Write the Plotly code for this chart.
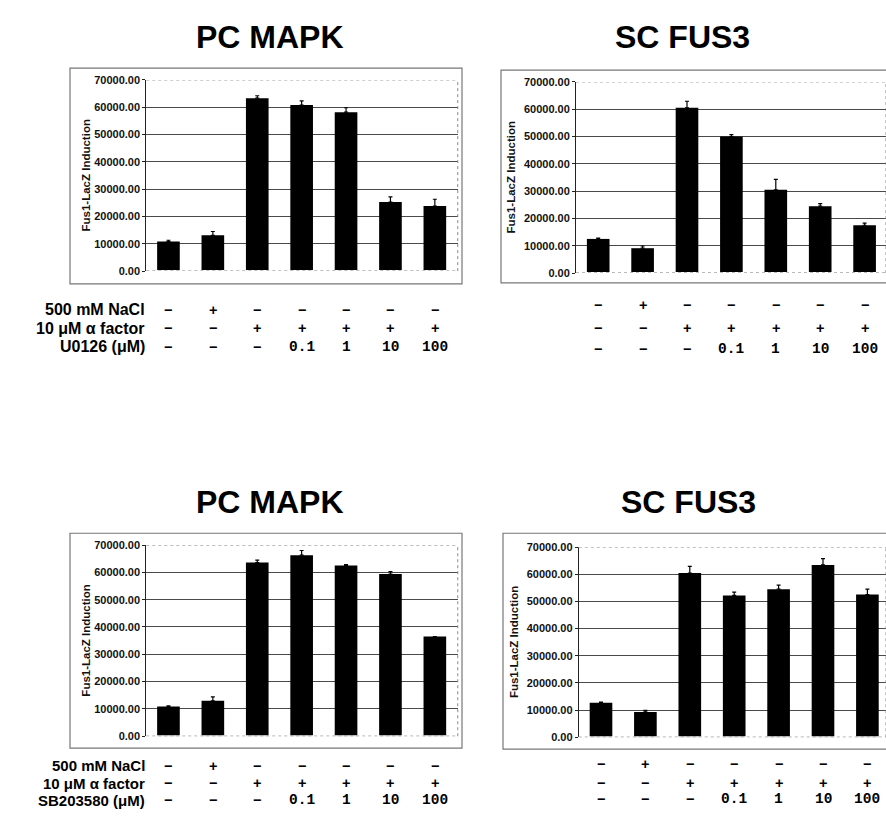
import plotly.graph_objects as go

W, H = 886, 826

# ---------------- data ----------------
lanes = ["L1", "L2", "L3", "L4", "L5", "L6", "L7"]
nacl_row = ["−", "+", "−", "−", "−", "−", "−"]
alpha_row = ["−", "−", "+", "+", "+", "+", "+"]
inhib_row = ["−", "−", "−", "0.1", "1", "10", "100"]

row_labels_top = ["500 mM NaCl", "10 μM α factor", "U0126 (μM)"]
row_labels_bottom = ["500 mM NaCl", "10 μM α factor", "SB203580 (μM)"]

titles = ["PC MAPK", "SC FUS3", "PC MAPK", "SC FUS3"]

pc_u0126 = [10800, 13100, 63300, 60800, 58200, 25300, 23800]
pc_u0126_err = [500, 1400, 900, 1500, 1600, 1900, 2500]

sc_u0126 = [12500, 9100, 60500, 50000, 30500, 24500, 17500]
sc_u0126_err = [300, 800, 2400, 700, 3800, 900, 800]

pc_sb = [10900, 13000, 63600, 66300, 62500, 59400, 36500]
pc_sb_err = [200, 1400, 900, 1700, 300, 900, 0]

sc_sb = [12700, 9300, 60400, 52200, 54500, 63400, 52500]
sc_sb_err = [200, 600, 2500, 1200, 1500, 2300, 2000]

y_ticks = [0, 10000, 20000, 30000, 40000, 50000, 60000, 70000]

# ---------------- layout helpers ----------------
def xp(px):
    return px / W

def yp(py):
    return 1 - py / H

panels = [
    dict(vals=pc_u0126, err=pc_u0126_err, px0=146.25, px1=457.75, pyt=75, pyb=269,
         frame=(70, 462, 63, 282), title_xy=(270, 31), ytitle_x=86,
         rows_y=[308, 327, 346], labels=row_labels_top, label_x=147, label_size=16),
    dict(vals=sc_u0126, err=sc_u0126_err, px0=576, px1=886, pyt=77, pyb=271,
         frame=(501, 900, 65, 281), title_xy=(682, 31), ytitle_x=511,
         rows_y=[303, 327, 348], labels=None, label_x=None, label_size=None),
    dict(vals=pc_sb, err=pc_sb_err, px0=146.25, px1=457.75, pyt=547, pyb=741,
         frame=(70, 462, 535, 753), title_xy=(270, 503), ytitle_x=86,
         rows_y=[771, 788.5, 806], labels=row_labels_bottom, label_x=147, label_size=15),
    dict(vals=sc_sb, err=sc_sb_err, px0=578.8, px1=886, pyt=549, pyb=742,
         frame=(503, 900, 535, 754), title_xy=(688, 503), ytitle_x=514,
         rows_y=[769, 788, 805], labels=None, label_x=None, label_size=None),
]

fig = go.Figure()
shapes = []
annotations = []
cat_w = 44.4
SANS = "Liberation Sans, Arial"
MONO = "Liberation Mono, Courier New"

for i, p in enumerate(panels):
    n = i + 1
    xa = "x" if n == 1 else f"x{n}"
    ya = "y" if n == 1 else f"y{n}"
    xkey = "xaxis" if n == 1 else f"xaxis{n}"
    ykey = "yaxis" if n == 1 else f"yaxis{n}"

    fig.add_trace(go.Bar(
        x=list(range(len(lanes))), y=p["vals"], xaxis=xa, yaxis=ya,
        marker=dict(color="black", line=dict(width=0)), width=0.51,
        error_y=dict(type="data", symmetric=False, array=p["err"],
                     arrayminus=[0] * len(lanes), color="black",
                     thickness=1.2, width=2),
        showlegend=False, hoverinfo="skip",
    ))

    span = (p["px1"] - p["px0"]) / cat_w
    fig.layout[xkey] = dict(
        domain=[xp(p["px0"]), min(1.0, xp(p["px1"]))], anchor=ya,
        range=[-0.5, -0.5 + span], showticklabels=False, showgrid=False,
        zeroline=False, showline=False, ticks="", fixedrange=True,
    )
    fig.layout[ykey] = dict(
        domain=[yp(p["pyb"]), yp(p["pyt"])], anchor=xa, range=[0, 70000],
        tickvals=y_ticks, ticktext=[f"<b>{v:.2f}</b>" for v in y_ticks],
        tickfont=dict(family=SANS, size=11, color="#111"),
        showgrid=True, gridcolor="#4a4a4a", gridwidth=1, zeroline=False,
        showline=True, linecolor="#222", linewidth=1,
        ticks="outside", ticklen=3, tickcolor="#222", fixedrange=True,
    )

    shapes.append(dict(type="line", xref=f"{xa} domain", yref=ya, x0=0, x1=1,
                       y0=70000, y1=70000, line=dict(color="white", width=2)))
    shapes.append(dict(type="line", xref=f"{xa} domain", yref=ya, x0=0, x1=1,
                       y0=70000, y1=70000, line=dict(color="#888", width=1, dash="dot")))
    shapes.append(dict(type="line", xref=f"{xa} domain", yref=ya, x0=0, x1=1,
                       y0=0, y1=0, line=dict(color="white", width=2)))
    shapes.append(dict(type="line", xref=f"{xa} domain", yref=ya, x0=0, x1=1,
                       y0=0, y1=0, line=dict(color="#666", width=1, dash="dot")))
    shapes.append(dict(type="line", xref=f"{xa} domain", yref=f"{ya} domain",
                       x0=1, x1=1, y0=0, y1=1, line=dict(color="#888", width=1, dash="dot")))

    fx0, fx1, fy0, fy1 = p["frame"]
    shapes.append(dict(type="rect", xref="paper", yref="paper",
                       x0=xp(fx0), x1=xp(fx1), y0=yp(fy1), y1=yp(fy0),
                       line=dict(color="#777", width=1.2), layer="below"))

    tx, ty = p["title_xy"]
    annotations.append(dict(text=f"<b>{titles[i]}</b>", xref="paper", yref="paper",
                            x=xp(tx), y=yp(ty), showarrow=False, xanchor="center",
                            yanchor="middle",
                            font=dict(family=SANS, size=32, color="black")))
    annotations.append(dict(text="<b>Fus1-LacZ Induction</b>", xref="paper", yref="paper",
                            x=xp(p["ytitle_x"]), y=yp((p["pyt"] + p["pyb"]) / 2),
                            showarrow=False, textangle=-90, xanchor="center",
                            yanchor="middle",
                            font=dict(family=SANS, size=11.5, color="#111")))

    rows = [nacl_row, alpha_row, inhib_row]
    for r, row in enumerate(rows):
        yy = yp(p["rows_y"][r])
        for k, sym in enumerate(row):
            is_num = sym not in ("−", "+")
            annotations.append(dict(
                text=f"<b>{sym}</b>", xref=xa, yref="paper", x=k, y=yy,
                showarrow=False, xanchor="center", yanchor="middle",
                font=dict(family=MONO if is_num else SANS,
                          size=14.5, color="black")))
        if p["labels"]:
            annotations.append(dict(
                text=f"<b>{p['labels'][r]}</b>", xref="paper", yref="paper",
                x=xp(p["label_x"]), y=yy, showarrow=False, xanchor="right",
                yanchor="middle",
                font=dict(family=SANS, size=p["label_size"], color="black")))

fig.update_layout(
    width=W, height=H, margin=dict(l=0, r=0, t=0, b=0),
    paper_bgcolor="white", plot_bgcolor="white",
    shapes=shapes, annotations=annotations, bargap=0.49,
)

fig.write_html(
    "out.html",
    config={"displayModeBar": False},
    post_script="document.body.style.margin='0';document.body.style.padding='0';"
                "document.body.style.overflow='hidden';",
)
